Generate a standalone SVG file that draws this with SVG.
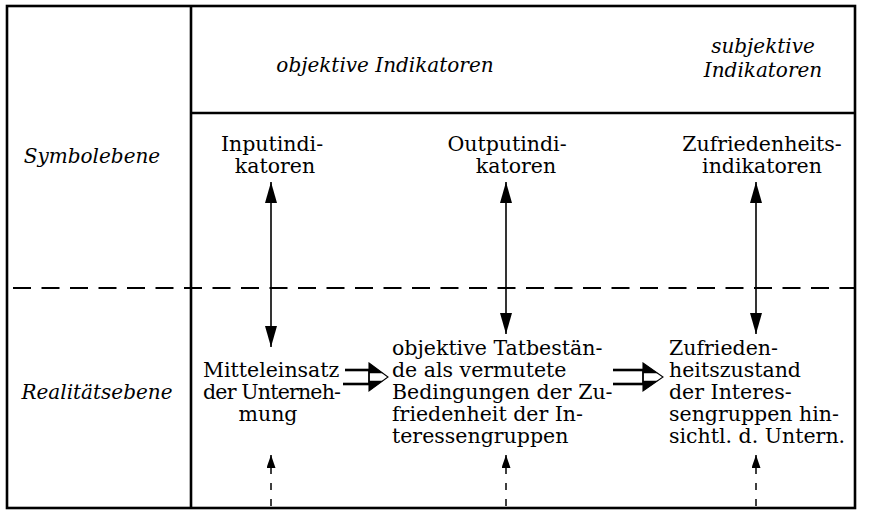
<svg xmlns="http://www.w3.org/2000/svg" width="870" height="510" viewBox="0 0 870 510">
<style>
  .t { font-family: "DejaVu Serif", "Liberation Serif", serif; font-size: 20.5px; fill: #000; }
  .i { font-family: "DejaVu Serif", "Liberation Serif", serif; font-size: 20px; font-style: italic; fill: #000; }
  .frame { fill: none; stroke: #000; stroke-width: 2.6; }
  .dash { stroke: #000; stroke-width: 1.8; stroke-dasharray: 18 10.5; fill: none; }
  .line { stroke: #000; stroke-width: 1.6; fill: none; }
  .thick { stroke: #000; stroke-width: 2.6; fill: none; }
  .dline { stroke: #000; stroke-width: 1.5; stroke-dasharray: 7 9; fill: none; }
</style>
<defs>
  <marker id="ah" markerUnits="userSpaceOnUse" markerWidth="21" markerHeight="12" refX="21" refY="6" orient="auto-start-reverse" viewBox="0 0 21 12">
    <path d="M0,0 L21,6 L0,12 Z" fill="#000"/>
  </marker>
  <marker id="sh" markerUnits="userSpaceOnUse" markerWidth="13" markerHeight="9" refX="13" refY="4.5" orient="auto" viewBox="0 0 13 9">
    <path d="M0,0 L13,4.5 L0,9 Z" fill="#000"/>
  </marker>
</defs>

<g id="frame">
  <rect class="frame" x="7" y="6" width="848" height="502"/>
  <line class="frame" x1="191" y1="6" x2="191" y2="508"/>
  <line class="frame" x1="191" y1="113" x2="855" y2="113"/>
  <line class="dash" x1="13" y1="288" x2="854" y2="288"/>
</g>

<g id="header-objektiv"><text class="i" x="385" y="72" text-anchor="middle">objektive Indikatoren</text></g>
<g id="header-subjektiv">
  <text class="i" x="763" y="53" text-anchor="middle">subjektive</text>
  <text class="i" x="763" y="77" text-anchor="middle">Indikatoren</text>
</g>
<g id="symbolebene"><text class="i" x="92" y="163" text-anchor="middle">Symbolebene</text></g>
<g id="realitaetsebene"><text class="i" x="97" y="399" text-anchor="middle">Realitätsebene</text></g>

<g id="inputindikatoren">
  <text class="t" x="272" y="151" text-anchor="middle">Inputindi-</text>
  <text class="t" x="275" y="173" text-anchor="middle">katoren</text>
</g>
<g id="outputindikatoren">
  <text class="t" x="507" y="151" text-anchor="middle">Outputindi-</text>
  <text class="t" x="516" y="173" text-anchor="middle">katoren</text>
</g>
<g id="zufriedenheitsindikatoren">
  <text class="t" x="762" y="151" text-anchor="middle">Zufriedenheits-</text>
  <text class="t" x="762" y="173" text-anchor="middle">indikatoren</text>
</g>

<g id="mitteleinsatz">
  <text class="t" x="203" y="376.5">Mitteleinsatz</text>
  <text class="t" x="203" y="398.5" textLength="138" lengthAdjust="spacing">der Unterneh-</text>
  <text class="t" x="268" y="420.5" text-anchor="middle">mung</text>
</g>
<g id="tatbestaende">
  <text class="t" x="392" y="354.5">objektive Tatbestän-</text>
  <text class="t" x="392" y="376.5">de als vermutete</text>
  <text class="t" x="392" y="398.5">Bedingungen der Zu-</text>
  <text class="t" x="392" y="420.5">friedenheit der In-</text>
  <text class="t" x="392" y="442.5">teressengruppen</text>
</g>
<g id="zufriedenheitszustand">
  <text class="t" x="669" y="354.5">Zufrieden-</text>
  <text class="t" x="669" y="376.5">heitszustand</text>
  <text class="t" x="669" y="398.5">der Interes-</text>
  <text class="t" x="669" y="420.5">sengruppen hin-</text>
  <text class="t" x="669" y="442.5">sichtl. d. Untern.</text>
</g>

<g id="connectors">
  <line class="line" x1="271" y1="182" x2="271" y2="347" marker-start="url(#ah)" marker-end="url(#ah)"/>
  <line class="line" x1="506" y1="182" x2="506" y2="334" marker-start="url(#ah)" marker-end="url(#ah)"/>
  <line class="line" x1="756" y1="182" x2="756" y2="334" marker-start="url(#ah)" marker-end="url(#ah)"/>

  <line class="dline" x1="271" y1="506" x2="271" y2="455" marker-end="url(#sh)"/>
  <line class="dline" x1="506" y1="506" x2="506" y2="455" marker-end="url(#sh)"/>
  <line class="dline" x1="756" y1="506" x2="756" y2="455" marker-end="url(#sh)"/>

  <g id="double-arrow-1">
    <line class="thick" x1="345" y1="370" x2="369" y2="370"/>
    <line class="thick" x1="343" y1="384" x2="369" y2="384"/>
    <path d="M369,363 L388,377 L369,391 Z" fill="none" stroke="#000" stroke-width="1.1"/>
    <path d="M369,363 L383,373.3 L369,373.3 Z" fill="#000"/>
    <path d="M369,380.7 L383,380.7 L369,391 Z" fill="#000"/>
    <line class="line" x1="369" y1="370" x2="369" y2="384" stroke-width="1.1"/>
  </g>
  <g id="double-arrow-2">
    <line class="thick" x1="613" y1="370" x2="643" y2="370"/>
    <line class="thick" x1="613" y1="384" x2="643" y2="384"/>
    <path d="M643,363 L663,377 L643,391 Z" fill="none" stroke="#000" stroke-width="1.1"/>
    <path d="M643,363 L658,373.3 L643,373.3 Z" fill="#000"/>
    <path d="M643,380.7 L658,380.7 L643,391 Z" fill="#000"/>
    <line class="line" x1="643" y1="370" x2="643" y2="384" stroke-width="1.1"/>
  </g>
</g>
</svg>
